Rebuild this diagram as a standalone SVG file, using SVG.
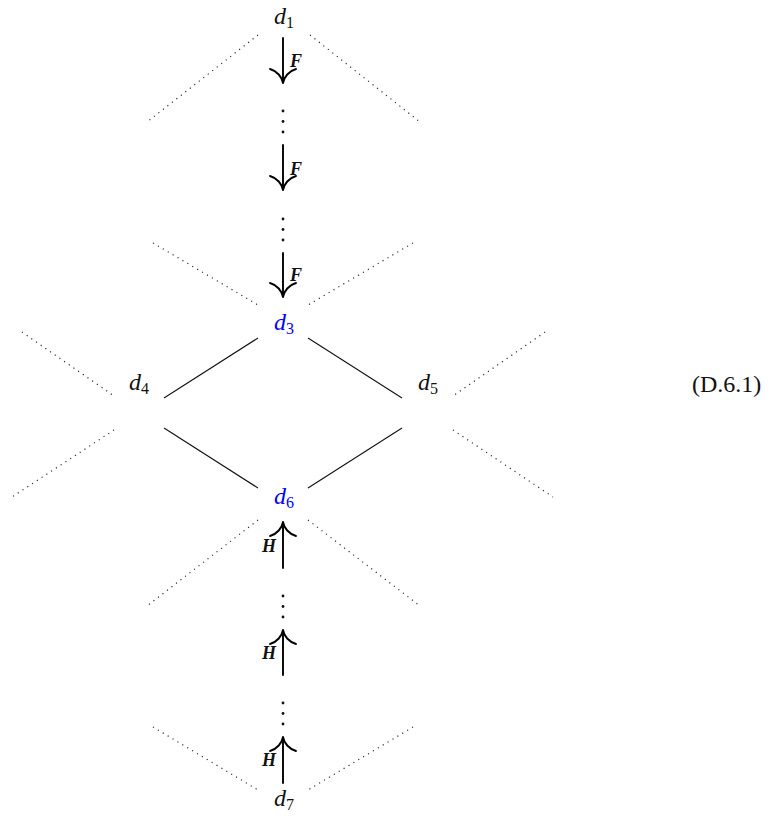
<svg xmlns="http://www.w3.org/2000/svg" width="771" height="819" viewBox="0 0 771 819">
<style>
text{font-family:'Liberation Serif','Times New Roman','DejaVu Serif',serif}
.n{font-size:24px;font-style:italic;fill:#111;text-anchor:middle}
.b{fill:#0000ff}
.sub{font-size:16px;font-style:normal}
.lbl{font-size:18px;font-style:italic;font-weight:bold;fill:#111}
.lh{text-anchor:end}
.eq{font-size:24px;fill:#111}
.dot{stroke:#222;stroke-width:1.2;stroke-dasharray:1.1 4.6;fill:none}
.sol{stroke:#111;stroke-width:1.1;fill:none}
.arr{stroke:#000;stroke-width:1.9;fill:none;stroke-linecap:round}
.vd{fill:#111}
</style>
<defs>
<path id="hd" class="arr" d="M-13,-14 C-6,-12 -1,-6 0,0 C1,-6 6,-12 13,-14"/>
<g id="vdots"><circle cx="0" cy="0" r="1.4"/><circle cx="0" cy="10.5" r="1.4"/><circle cx="0" cy="21" r="1.4"/></g>
</defs>
<g id="dotted">
<line class="dot" x1="258" y1="35" x2="147" y2="122"/>
<line class="dot" x1="310" y1="35" x2="420" y2="122"/>
<line class="dot" x1="153" y1="243" x2="258" y2="305"/>
<line class="dot" x1="413" y1="243" x2="308" y2="305"/>
<line class="dot" x1="22" y1="332" x2="114" y2="396"/>
<line class="dot" x1="114" y1="430" x2="12" y2="497"/>
<line class="dot" x1="545" y1="332" x2="453" y2="396"/>
<line class="dot" x1="453" y1="430" x2="553" y2="497"/>
<line class="dot" x1="258" y1="520" x2="147" y2="606"/>
<line class="dot" x1="308" y1="520" x2="420" y2="606"/>
<line class="dot" x1="153" y1="727" x2="258" y2="790"/>
<line class="dot" x1="413" y1="727" x2="308" y2="790"/>
</g>
<g id="connectors">
<line class="sol" x1="258" y1="338" x2="164" y2="398"/>
<line class="sol" x1="308" y1="338" x2="402" y2="398"/>
<line class="sol" x1="164" y1="428" x2="258" y2="488"/>
<line class="sol" x1="402" y1="428" x2="308" y2="488"/>
<line class="arr" x1="283" y1="38" x2="283" y2="83"/>
<use href="#hd" x="283" y="83"/>
<text class="lbl" x="290" y="67">F</text>
<line class="arr" x1="283" y1="145" x2="283" y2="190"/>
<use href="#hd" x="283" y="190"/>
<text class="lbl" x="290" y="175">F</text>
<line class="arr" x1="283" y1="253" x2="283" y2="297"/>
<use href="#hd" x="283" y="297"/>
<text class="lbl" x="290" y="281">F</text>
<line class="arr" x1="283" y1="568" x2="283" y2="522"/>
<use href="#hd" transform="translate(283,522) rotate(180)"/>
<text class="lbl lh" x="276" y="552">H</text>
<line class="arr" x1="283" y1="675" x2="283" y2="630"/>
<use href="#hd" transform="translate(283,630) rotate(180)"/>
<text class="lbl lh" x="276" y="659">H</text>
<line class="arr" x1="283" y1="783" x2="283" y2="737"/>
<use href="#hd" transform="translate(283,737) rotate(180)"/>
<text class="lbl lh" x="276" y="766">H</text>
<g class="vd">
<use href="#vdots" x="283" y="111"/>
<use href="#vdots" x="283" y="219"/>
<use href="#vdots" x="283" y="596"/>
<use href="#vdots" x="283" y="703"/>
</g>
</g>
<g id="d1"><text class="n" x="284" y="24">d<tspan class="sub" dy="4">1</tspan></text></g>
<g id="d3"><text class="n b" x="284" y="330">d<tspan class="sub" dy="4">3</tspan></text></g>
<g id="d4"><text class="n" x="139" y="390">d<tspan class="sub" dy="4">4</tspan></text></g>
<g id="d5"><text class="n" x="428" y="390">d<tspan class="sub" dy="4">5</tspan></text></g>
<g id="d6"><text class="n b" x="284" y="504">d<tspan class="sub" dy="4">6</tspan></text></g>
<g id="d7"><text class="n" x="284" y="806">d<tspan class="sub" dy="4">7</tspan></text></g>
<g id="eqnum"><text class="eq" x="692" y="392">(D.6.1)</text></g>
</svg>
